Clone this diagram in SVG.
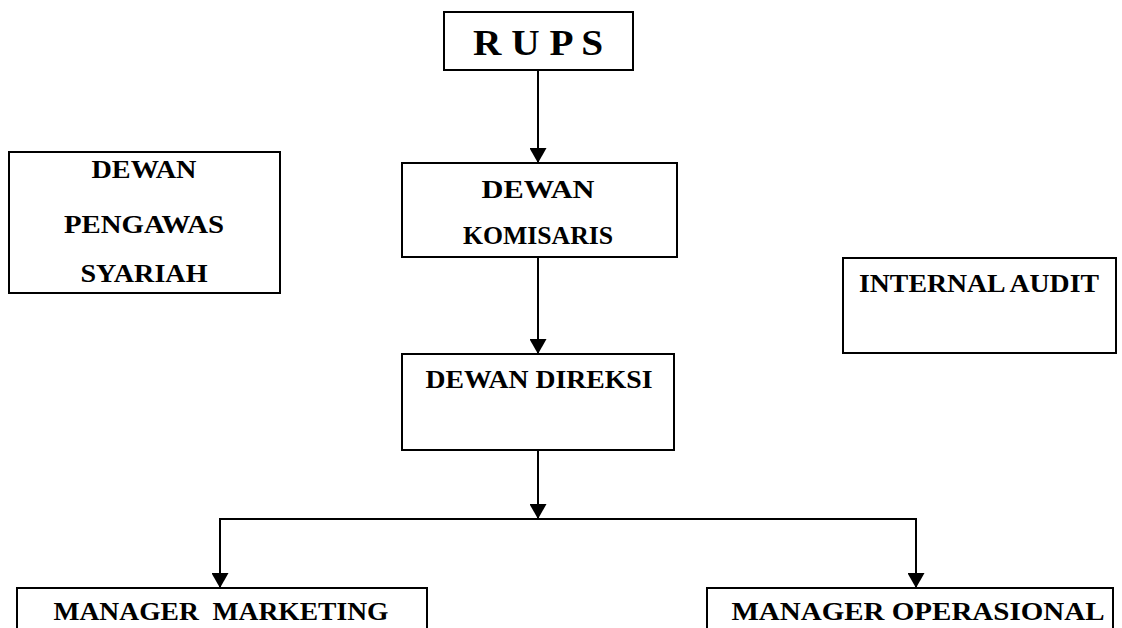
<svg xmlns="http://www.w3.org/2000/svg" width="1122" height="628" viewBox="0 0 1122 628">
<style>
.box{fill:#fff;stroke:#000;stroke-width:2}
.t{font-family:"Liberation Serif","Times New Roman",serif;font-weight:bold;font-size:26px;fill:#000;text-anchor:middle;white-space:pre}
.c{fill:none;stroke:#000;stroke-width:2}
</style>
<defs>
<marker id="ad" markerUnits="userSpaceOnUse" markerWidth="15" markerHeight="17" refX="15" refY="8.5" orient="auto" viewBox="0 0 15 17">
<path d="M0,0 L15,8.5 L0,17 Z" fill="#000"/>
</marker>
</defs>
<rect width="1122" height="628" fill="#fff"/>
<g id="connectors">
<line class="c" x1="538" y1="71" x2="538" y2="163" marker-end="url(#ad)"/>
<line class="c" x1="538" y1="258" x2="538" y2="354" marker-end="url(#ad)"/>
<line class="c" x1="538" y1="451" x2="538" y2="519" marker-end="url(#ad)"/>
<polyline class="c" points="220,540 220,519 916,519 916,540"/>
<line class="c" x1="220" y1="539" x2="220" y2="588" marker-end="url(#ad)"/>
<line class="c" x1="916" y1="539" x2="916" y2="588" marker-end="url(#ad)"/>
</g>
<g id="rups">
<rect class="box" x="444" y="12" width="189" height="58"/>
<text class="t" x="538" y="55" style="font-size:35px" textLength="130" lengthAdjust="spacingAndGlyphs">R U P S</text>
</g>
<g id="dewan-pengawas-syariah">
<rect class="box" x="9" y="152" width="271" height="141"/>
<text class="t" x="144" y="178" textLength="105" lengthAdjust="spacingAndGlyphs">DEWAN</text>
<text class="t" x="144" y="233" textLength="160" lengthAdjust="spacingAndGlyphs">PENGAWAS</text>
<text class="t" x="144" y="282" textLength="127" lengthAdjust="spacingAndGlyphs">SYARIAH</text>
</g>
<g id="dewan-komisaris">
<rect class="box" x="402" y="163" width="275" height="94"/>
<text class="t" x="538" y="198" textLength="113" lengthAdjust="spacingAndGlyphs">DEWAN</text>
<text class="t" x="538" y="244" textLength="150" lengthAdjust="spacingAndGlyphs">KOMISARIS</text>
</g>
<g id="internal-audit">
<rect class="box" x="843" y="258" width="273" height="95"/>
<text class="t" x="979" y="292" textLength="240" lengthAdjust="spacingAndGlyphs">INTERNAL AUDIT</text>
</g>
<g id="dewan-direksi">
<rect class="box" x="402" y="354" width="272" height="96"/>
<text class="t" x="539" y="388" textLength="227" lengthAdjust="spacingAndGlyphs">DEWAN DIREKSI</text>
</g>
<g id="manager-marketing">
<rect class="box" x="17" y="588" width="410" height="60"/>
<text class="t" x="221" y="620" textLength="335" lengthAdjust="spacingAndGlyphs">MANAGER  MARKETING</text>
</g>
<g id="manager-operasional">
<rect class="box" x="707" y="588" width="406" height="60"/>
<text class="t" x="918" y="620" textLength="373" lengthAdjust="spacingAndGlyphs">MANAGER OPERASIONAL</text>
</g>
</svg>
